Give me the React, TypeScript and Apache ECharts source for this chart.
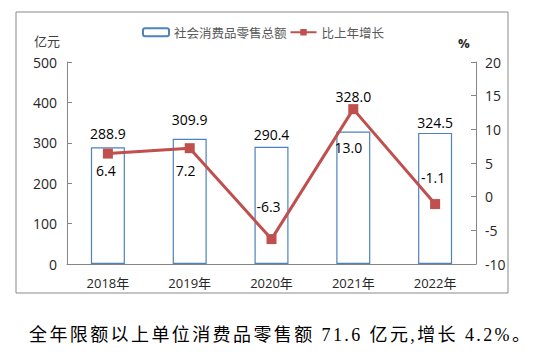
import React, { useEffect, useRef } from "react";
import * as echarts from "echarts";

const categories = ["2018年", "2019年", "2020年", "2021年", "2022年"];
const salesValues = [288.9, 309.9, 290.4, 328.0, 324.5];
const growthValues = [6.4, 7.2, -6.3, 13.0, -1.1];
const salesLabelOffsetY = [-2, -7, 0, -23, 2];
const growthLabelOffsets = [
  [-2, 17],
  [-4, 22],
  [-3, -33],
  [-5, 38],
  [-2, -27],
];
const footnote = "全年限额以上单位消费品零售额 71.6 亿元,增长 4.2%。";

const LATIN = "'Open Sans', 'Noto Sans CJK SC', sans-serif";
const AXIS_GRAY = "#868686";

export default function App() {
  const ref = useRef<HTMLDivElement>(null);
  useEffect(() => {
    if (!ref.current) return;
    const chart = echarts.init(ref.current, null, { renderer: "svg" });
    chart.setOption({
      animation: false,
      backgroundColor: "#ffffff",
      textStyle: { fontFamily: LATIN },
      legend: {
        left: 137,
        top: 21,
        itemWidth: 26,
        itemHeight: 8,
        itemGap: 3,
        textStyle: { fontSize: 12.5, color: "#595959", fontFamily: "'Noto Sans CJK SC', sans-serif" },
        data: ["社会消费品零售总额", "比上年增长"],
      },
      grid: { left: 67, right: 75, top: 62, bottom: 91 },
      xAxis: {
        type: "category",
        data: categories,
        axisLine: { lineStyle: { color: AXIS_GRAY } },
        axisTick: { inside: true, length: 5, lineStyle: { color: AXIS_GRAY } },
        axisLabel: { fontSize: 13, color: "#262626", margin: 12, fontFamily: LATIN },
      },
      yAxis: [
        {
          type: "value",
          min: 0,
          max: 500,
          interval: 100,
          splitLine: { show: false },
          axisLine: { show: true, lineStyle: { color: AXIS_GRAY } },
          axisTick: { show: true, inside: true, length: 5, lineStyle: { color: AXIS_GRAY } },
          axisLabel: { fontSize: 14, color: "#262626", margin: 10 },
        },
        {
          type: "value",
          min: -10,
          max: 20,
          interval: 5,
          position: "right",
          splitLine: { show: false },
          axisLine: { show: true, lineStyle: { color: AXIS_GRAY } },
          axisTick: { show: true, inside: true, length: 5, lineStyle: { color: AXIS_GRAY } },
          axisLabel: { fontSize: 14, color: "#262626", margin: 9 },
        },
      ],
      series: [
        {
          name: "社会消费品零售总额",
          type: "bar",
          barWidth: 34,
          yAxisIndex: 0,
          itemStyle: { color: "#ffffff", borderColor: "#4F81BD", borderWidth: 1.2 },
          data: salesValues.map((v, i) => ({
            value: v,
            label: {
              show: true,
              position: "top",
              distance: 5,
              offset: [0, salesLabelOffsetY[i]],
              formatter: (p: any) => Number(p.value).toFixed(1),
              fontSize: 14,
              color: "#000000",
            },
          })),
        },
        {
          name: "比上年增长",
          type: "line",
          yAxisIndex: 1,
          symbol: "rect",
          symbolSize: 10,
          lineStyle: { color: "#C0504D", width: 3 },
          itemStyle: { color: "#C0504D" },
          z: 3,
          data: growthValues.map((v, i) => ({
            value: v,
            label: {
              show: true,
              position: "inside",
              offset: growthLabelOffsets[i],
              formatter: (p: any) => Number(p.value).toFixed(1),
              fontSize: 14,
              color: "#000000",
            },
          })),
        },
      ],
      graphic: [
        {
          type: "rect",
          shape: { x: 16, y: 12, width: 492, height: 281 },
          style: { fill: "none", stroke: "#898989", lineWidth: 1 },
          z: -1,
          silent: true,
        },
        {
          type: "text",
          x: 34,
          y: 34,
          style: { text: "亿元", fontSize: 13, fill: "#404040", fontFamily: "'Noto Sans CJK SC', sans-serif" },
        },
        {
          type: "text",
          x: 458,
          y: 36,
          style: { text: "%", fontSize: 13, fontWeight: "bold", fill: "#262626", fontFamily: LATIN },
        },
      ],
    });
    return () => chart.dispose();
  }, []);
  return (
    <div style={{ position: "absolute", left: 0, top: 0, width: 551, height: 355, background: "#fff" }}>
      <div ref={ref} style={{ position: "absolute", left: 0, top: 0, width: 551, height: 355 }} />
      <div
        style={{
          position: "absolute",
          left: 29,
          top: 323,
          height: 24,
          lineHeight: "24px",
          fontSize: 18,
          letterSpacing: "2.4px",
          whiteSpace: "nowrap",
          color: "#000",
          fontFamily: "'Liberation Serif', 'Noto Sans CJK SC', serif",
        }}
      >
        {footnote}
      </div>
    </div>
  );
}
